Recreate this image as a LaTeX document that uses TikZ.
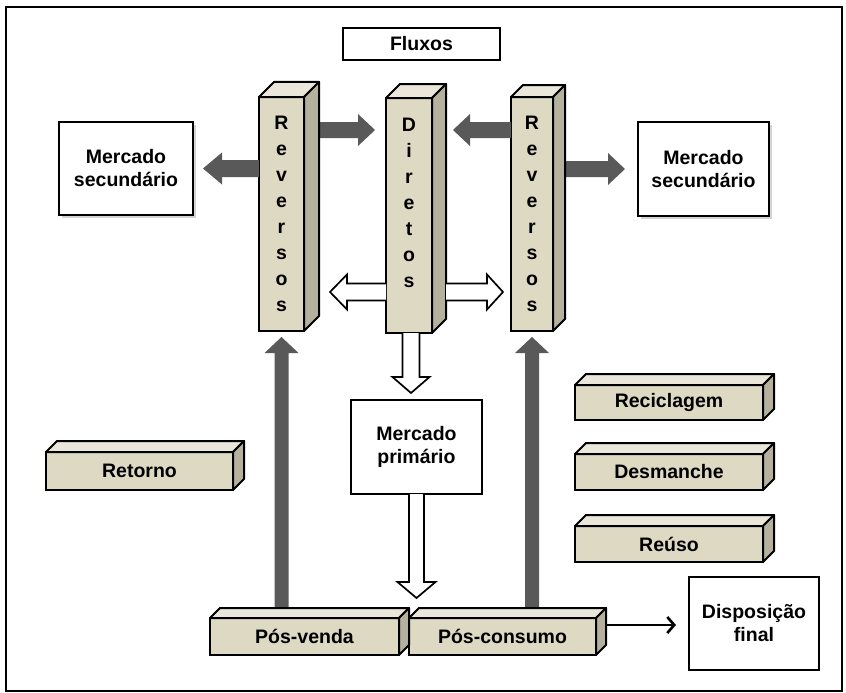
\documentclass[tikz,border=0pt]{standalone}
\usepackage{fontspec}
\setmainfont{Liberation Sans}
\usetikzlibrary{calc,arrows.meta,shadows}
\definecolor{frontc}{HTML}{DDD9C3}
\definecolor{topc}{HTML}{EAE7DA}
\definecolor{sidec}{HTML}{B5B19E}
\definecolor{arrgray}{HTML}{595959}
% horizontal fat arrow: style, start, tip, half shaft, half head, head length
\newcommand\fatH[6]{%
 \path[#1] let \p1=#2, \p2=#3, \p3=({\x2-sign(\x2-\x1)*#6},\y1) in
  (\x1,\y1-#4) -- (\x3,\y1-#4) -- (\x3,\y1-#5) -- (\x2,\y1) -- (\x3,\y1+#5) -- (\x3,\y1+#4) -- (\x1,\y1+#4);}
% vertical fat arrow
\newcommand\fatV[6]{%
 \path[#1] let \p1=#2, \p2=#3, \p3=(\x1,{\y2-sign(\y2-\y1)*#6}) in
  (\x1-#4,\y1) -- (\x1-#4,\y3) -- (\x1-#5,\y3) -- (\x1,\y2) -- (\x1+#5,\y3) -- (\x1+#4,\y3) -- (\x1+#4,\y1);}
\begin{document}
\begin{tikzpicture}[x=1pt,y=-1pt,
  every node/.style={font=\fontsize{19.5}{23}\selectfont\bfseries, inner sep=0pt, outer sep=0pt, align=center},
  plainbox/.style={draw, line width=2pt, fill=white},
  shadowbox/.style={plainbox, drop shadow={shadow xshift=2.5pt, shadow yshift=-2.5pt, opacity=0.35, fill=gray}},
  cube/.style={draw, line width=2pt, fill=frontc},
  pillar/.style={cube, font=\fontsize{19.5}{26}\selectfont\bfseries},
  face/.style={draw=black, line width=2pt, line join=round},
  grayarr/.style={fill=arrgray},
  hollow/.style={draw=black, fill=white, line width=1.7pt, line join=miter}]
\useasboundingbox (0,0) rectangle (846,693);
\draw[line width=1.6pt] (6,7) rectangle (842,691);

% boxes
\node[plainbox, line width=1.6pt, minimum width=157pt, minimum height=32pt] (flux) at (421.5,44) {Fluxos};
\node[shadowbox, minimum width=134pt, minimum height=93pt] (msL) at (126,168.5) {Mercado\\secundário};
\node[shadowbox, minimum width=131pt, minimum height=94pt] (msR) at (703.5,169) {Mercado\\secundário};
\node[plainbox, minimum width=131pt, minimum height=94pt] (msP) at (416.5,447) {Mercado\\primário};
\node[plainbox, minimum width=130pt, minimum height=93pt] (disp) at (754,623.5) {Disposição\\final};

% pillars
\node[pillar, minimum width=45pt, minimum height=234pt] (revL) at (281.5,214) {R\\e\\v\\e\\r\\s\\o\\s};
\node[pillar, minimum width=46pt, minimum height=235pt] (dir) at (409,215.5) {D\\i\\r\\e\\t\\o\\s\\\phantom{s}};
\node[pillar, minimum width=42pt, minimum height=234pt] (revR) at (532,214) {R\\e\\v\\e\\r\\s\\o\\s};

% flat cuboids
\node[cube, minimum width=189pt, minimum height=37pt] (posv) at (304.5,636.5) {Pós-venda};
\node[cube, minimum width=187pt, minimum height=37pt] (posc) at (502.5,636.5) {Pós-consumo};
\node[cube, minimum width=188pt, minimum height=35pt] (recic) at (669,402.5) {Reciclagem};
\node[cube, minimum width=188pt, minimum height=36pt] (desm) at (669,472) {Desmanche};
\node[cube, minimum width=188pt, minimum height=36pt] (reuso) at (669,544) {Reúso};
\node[cube, minimum width=187pt, minimum height=38pt] (ret) at (139.5,471) {Retorno};

% gray arrows
\fatH{grayarr}{($(revL.north east)+(14,33)$)}{($(dir.north west)+(-11,32)$)}{8pt}{16pt}{17pt}
\fatH{grayarr}{($(revR.north west)+(0,33)$)}{($(dir.north east)+(21,32)$)}{8pt}{16pt}{17pt}
\fatH{grayarr}{(revL.west |- msL.east)}{($(msL.east)+(10,0)$)}{8.5pt}{16pt}{19pt}
\fatH{grayarr}{($(revR.east |- msR.west)+(12,0)$)}{($(msR.west)+(-13,0)$)}{8pt}{16pt}{17pt}
\fatV{grayarr}{(revL.south |- posv.north)}{($(revL.south)+(0,6)$)}{7pt}{17pt}{16pt}
\fatV{grayarr}{(revR.south |- posc.north)}{($(revR.south)+(0,6)$)}{7pt}{17pt}{16pt}

% 3D faces
\foreach \n/\d in {revL/15,dir/14,revR/12,posv/10,posc/10,recic/11,desm/11,reuso/11,ret/11}{
  \filldraw[face, fill=topc] (\n.north west) -- ++(\d,-\d) -- ([shift={(\d,-\d)}]\n.north east) -- (\n.north east) -- cycle;
  \filldraw[face, fill=sidec] (\n.north east) -- ++(\d,-\d) -- ([shift={(\d,-\d)}]\n.south east) -- (\n.south east) -- cycle;
}

% hollow arrows
\fatV{hollow}{($(dir.south)+(2,0)$)}{($(msP.north)+(0,-7)$)}{8.5pt}{18.5pt}{16pt}
\fatV{hollow}{(msP.south)}{($(posc.north -| msP.south)+(0,-20)$)}{7.5pt}{19pt}{16pt}
\fatH{hollow}{($(dir.west)+(0,76.5)$)}{($(revL.east)+(26,78)$)}{8.5pt}{17.5pt}{17pt}
\fatH{hollow}{($(dir.east)+(14,76.5)$)}{($(revR.west)+(-8,78)$)}{8.5pt}{17.5pt}{16pt}

% line to Disposição final
\draw[line width=2.6pt, -{Straight Barb[length=7pt,width=16pt]}] ($(posc.east)+(10,-11.5)$) -- ($(disp.west)+(-13,1.5)$);
\end{tikzpicture}
\end{document}
